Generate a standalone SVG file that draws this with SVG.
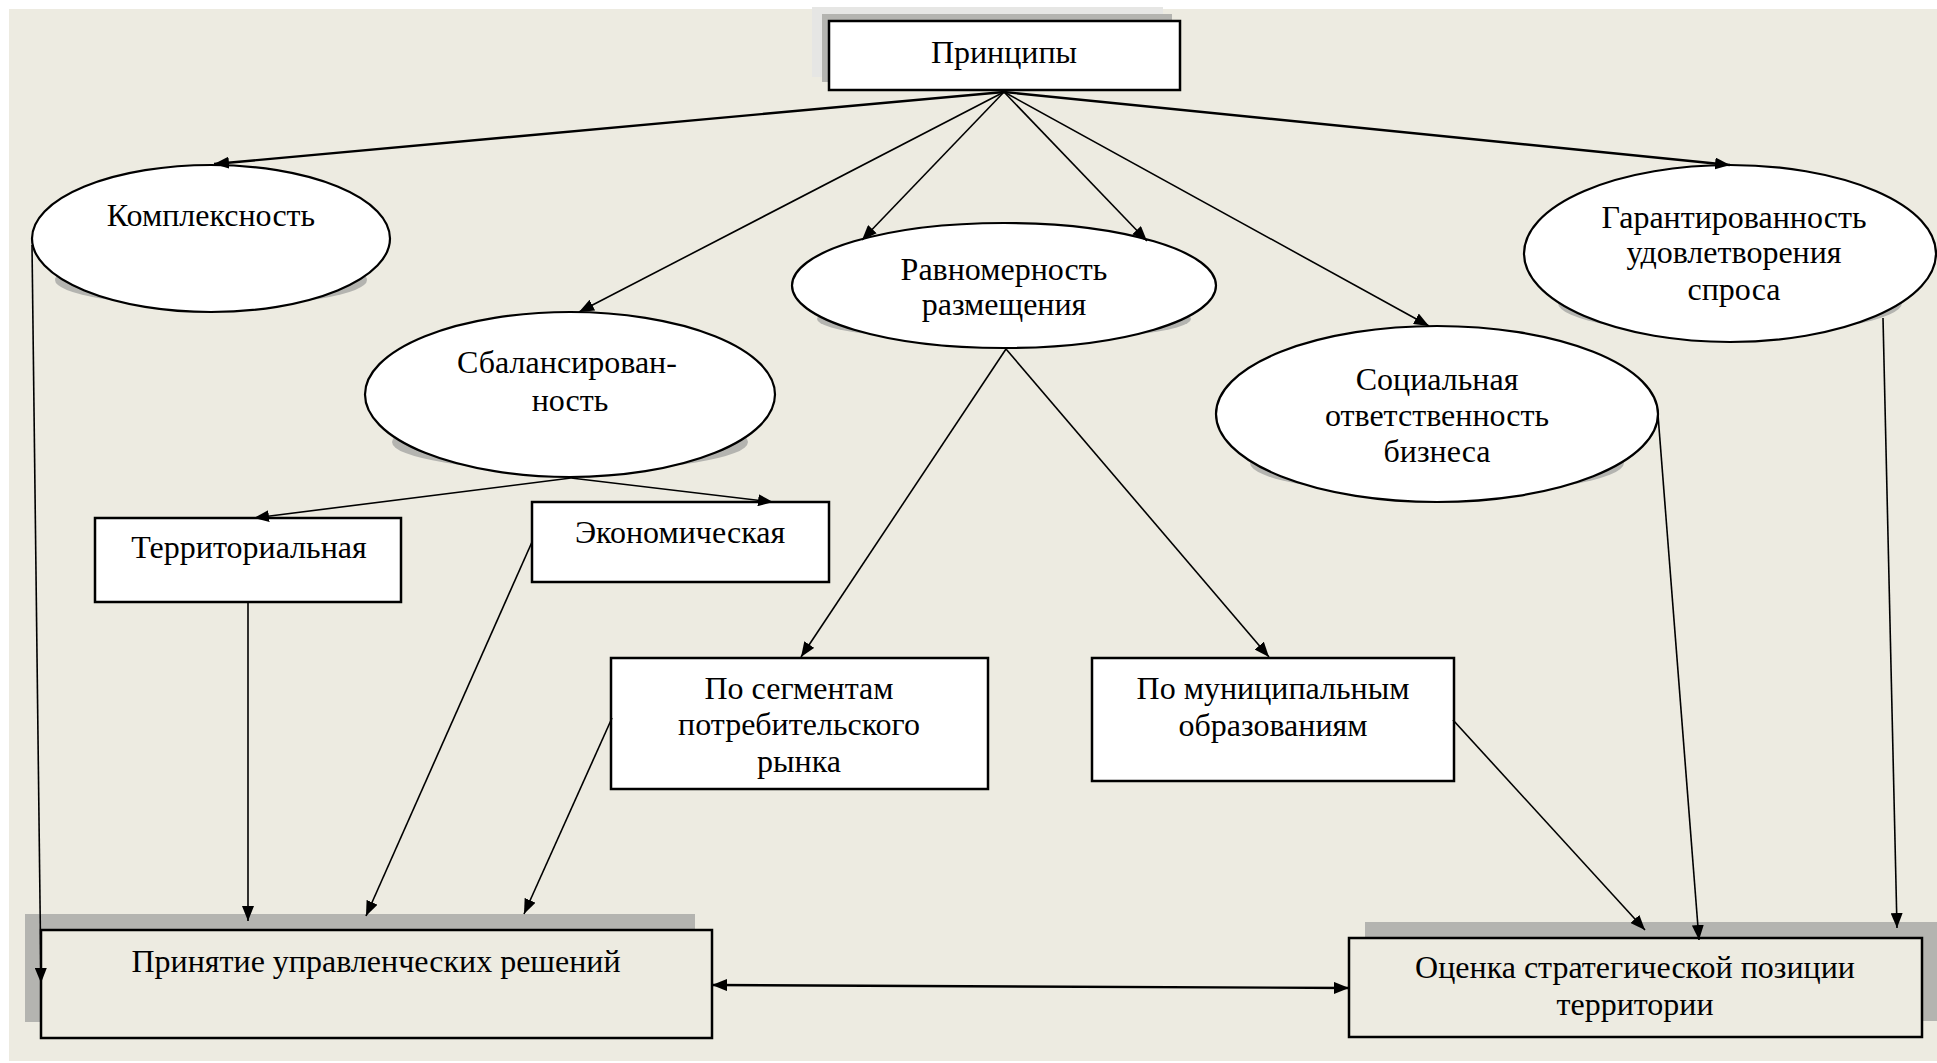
<svg xmlns="http://www.w3.org/2000/svg" width="1937" height="1063" viewBox="0 0 1937 1063">
<defs>
<marker id="ah" markerUnits="userSpaceOnUse" markerWidth="16" markerHeight="12" refX="15" refY="6" orient="auto">
<path d="M0,0 L15,6 L0,12 z" fill="#000"/>
</marker>
<marker id="ahs" markerUnits="userSpaceOnUse" markerWidth="16" markerHeight="12" refX="0" refY="6" orient="auto">
<path d="M15,0 L0,6 L15,12 z" fill="#000"/>
</marker>
<style>
.t{font-size:32px;fill:#000;text-anchor:middle}
.ell{fill:#fff;stroke:#000;stroke-width:2.2}
.sh{fill:#b4b4b0;stroke:none}
.box{fill:#fff;stroke:#000;stroke-width:2.5}
.bbox{fill:#edebe1;stroke:#000;stroke-width:2.5}
.c{fill:none;stroke:#000;stroke-width:1.6;marker-end:url(#ah)}
.ct{fill:none;stroke:#000;stroke-width:2.4;marker-end:url(#ah)}
</style>
</defs>
<rect x="0" y="0" width="1937" height="1063" fill="#fff"/>
<rect x="9" y="9" width="1928" height="1052" fill="#edebe1"/>

<g font-family="Liberation Serif, Times New Roman, serif">
<g id="n-principles">
<rect x="812" y="7" width="351" height="70" fill="#e6e6e4"/>
<rect x="822" y="14" width="350" height="68" fill="#b4b4b0"/>
<rect class="box" x="829" y="21" width="351" height="69"/>
<text class="t" x="1004" y="63">Принципы</text>
</g>

<g id="n-kompleksnost">
<ellipse class="sh" cx="211" cy="280" rx="156" ry="26"/>
<ellipse class="ell" cx="211" cy="238.5" rx="179" ry="73.5"/>
<text class="t" x="211" y="226">Комплексность</text>
</g>

<g id="n-sbalans">
<ellipse class="sh" cx="570" cy="442" rx="178" ry="29"/>
<ellipse class="ell" cx="570" cy="394.5" rx="205" ry="82.5"/>
<text class="t" x="567" y="373">Сбалансирован-</text>
<text class="t" x="570" y="411">ность</text>
</g>

<g id="n-ravnomer">
<ellipse class="sh" cx="1004" cy="319" rx="187" ry="22"/>
<ellipse class="ell" cx="1004" cy="285.5" rx="212" ry="62.5"/>
<text class="t" x="1004" y="280">Равномерность</text>
<text class="t" x="1004" y="315">размещения</text>
</g>

<g id="n-social">
<ellipse class="sh" cx="1437" cy="463" rx="187" ry="31"/>
<ellipse class="ell" cx="1437" cy="414" rx="221" ry="88"/>
<text class="t" x="1437" y="390">Социальная</text>
<text class="t" x="1437" y="426">ответственность</text>
<text class="t" x="1437" y="462">бизнеса</text>
</g>

<g id="n-garant">
<ellipse class="sh" cx="1730" cy="303" rx="172" ry="31"/>
<ellipse class="ell" cx="1730" cy="253.5" rx="206" ry="88.5"/>
<text class="t" x="1734" y="228">Гарантированность</text>
<text class="t" x="1734" y="263">удовлетворения</text>
<text class="t" x="1734" y="300">спроса</text>
</g>

<g id="n-territ">
<rect class="box" x="95" y="518" width="306" height="84"/>
<text class="t" x="249" y="558">Территориальная</text>
</g>

<g id="n-econ">
<rect class="box" x="532" y="502" width="297" height="80"/>
<text class="t" x="680" y="543">Экономическая</text>
</g>

<g id="n-segment">
<rect class="box" x="611" y="658" width="377" height="131"/>
<text class="t" x="799" y="699">По сегментам</text>
<text class="t" x="799" y="735">потребительского</text>
<text class="t" x="799" y="772">рынка</text>
</g>

<g id="n-munic">
<rect class="box" x="1092" y="658" width="362" height="123"/>
<text class="t" x="1273" y="699">По муниципальным</text>
<text class="t" x="1273" y="736">образованиям</text>
</g>

<g id="n-prinyatie">
<rect x="25" y="914" width="670" height="108" fill="#b4b4b0"/>
<rect class="bbox" x="41" y="930" width="671" height="108"/>
<text class="t" x="376" y="972">Принятие управленческих решений</text>
</g>

<g id="n-ocenka">
<rect x="1365" y="922" width="572" height="99" fill="#b4b4b0"/>
<rect class="bbox" x="1349" y="938" width="573" height="99"/>
<text class="t" x="1635" y="978">Оценка стратегической позиции</text>
<text class="t" x="1635" y="1015">территории</text>
</g>
</g>

<g id="connectors">
<line class="ct" x1="1004" y1="92" x2="214" y2="164"/>
<line class="ct" x1="1004" y1="92" x2="1730" y2="165"/>
<line class="c" x1="1004" y1="92" x2="579" y2="312"/>
<line class="c" x1="1004" y1="92" x2="862" y2="240"/>
<line class="c" x1="1004" y1="92" x2="1147" y2="241"/>
<line class="c" x1="1004" y1="92" x2="1429" y2="326"/>
<line class="c" x1="571" y1="478" x2="254" y2="518"/>
<line class="c" x1="571" y1="478" x2="773" y2="502"/>
<line class="c" x1="1006" y1="349" x2="801" y2="657"/>
<line class="c" x1="1006" y1="349" x2="1269" y2="657"/>
<line class="c" x1="32" y1="245" x2="41" y2="983"/>
<line class="c" x1="248" y1="602" x2="248" y2="921"/>
<line class="c" x1="532" y1="542" x2="366" y2="916"/>
<line class="c" x1="612" y1="718" x2="524" y2="914"/>
<line class="c" x1="1453" y1="720" x2="1645" y2="930"/>
<line class="c" x1="1658" y1="415" x2="1699" y2="940"/>
<line class="c" x1="1883" y1="318" x2="1897" y2="928"/>
<line fill="none" stroke="#000" stroke-width="2.4" marker-start="url(#ahs)" marker-end="url(#ah)" x1="712" y1="985" x2="1349" y2="988"/>
</g>
</svg>
